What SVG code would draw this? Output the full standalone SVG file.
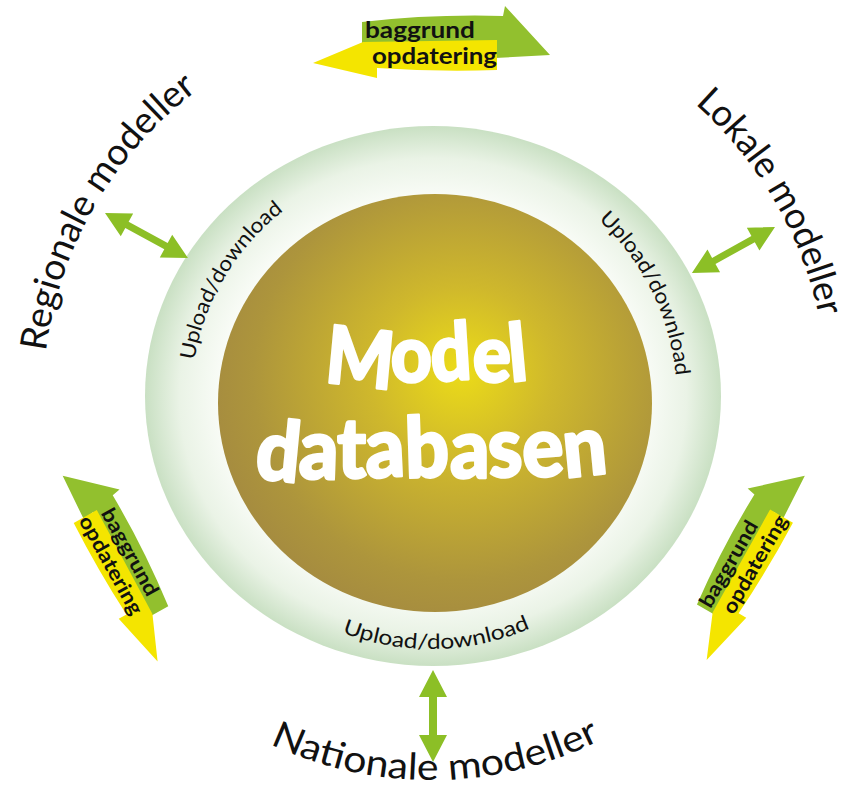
<svg xmlns="http://www.w3.org/2000/svg" width="845" height="789" viewBox="0 0 845 789">
<style>
.lbl{font-family:Lato,"Open Sans","Liberation Sans",sans-serif;fill:#111;}
.big{font-size:37px;}
.ud{font-size:21px;}
.cyc{font-family:Lato,"Open Sans","Liberation Sans",sans-serif;font-weight:bold;font-size:23px;fill:#111;}
.ctr{font-family:Lato,"DejaVu Sans","Liberation Sans",sans-serif;font-weight:900;fill:#fff;stroke:#fff;stroke-width:2.5;stroke-linejoin:round;}
.dbl{fill:#8cbf26;}
.grn{fill:#92c02e;}
.yel{fill:#f4e500;}
</style>
<defs>
<radialGradient id="ringG" cx="0.5" cy="0.5" r="0.5">
<stop offset="0.72" stop-color="#fbfdf9"/>
<stop offset="0.88" stop-color="#eaf3e6"/>
<stop offset="1" stop-color="#c9e0c3"/>
</radialGradient>
<radialGradient id="ballG" cx="0.56" cy="0.45" r="0.6" fx="0.56" fy="0.42">
<stop offset="0" stop-color="#ecdc18"/>
<stop offset="0.35" stop-color="#cfb82c"/>
<stop offset="0.8" stop-color="#ad953c"/>
<stop offset="1" stop-color="#a48a40"/>
</radialGradient>
<path id="pReg" d="M45.1,359.4 A388,388 0 0 1 214,78.3"/>
<path id="pLok" d="M686,96 A397,397 0 0 1 828,400"/>
<path id="pNat" d="M264.4,741.5 A380,380 0 0 0 621,729.1"/>
<path id="pUdL" d="M191.9,379.1 A240,240 0 0 1 311,192.2"/>
<path id="pUdR" d="M582.5,206.1 A246,246 0 0 1 677,400"/>
<path id="pUdB" d="M321.8,623.8 A249,249 0 0 0 555.5,615.6"/>
<g id="cycShape">
<path class="grn" d="M-70,-20 Q0,-28 71,-26 L73,-36 L118,13 L63,16 L65,3 Q0,1 -70,5 Z"/>
<path class="yel" d="M65,-2 L65,28 Q5,30 -55,26 L-55,36 L-119,21 L-69,0 Q0,-1 65,-2 Z"/>
</g>
</defs>

<rect width="845" height="789" fill="#fff"/>

<g id="ring">
<ellipse cx="433" cy="396" rx="288" ry="270" fill="url(#ringG)"/>
<text class="lbl ud"><textPath href="#pUdL" startOffset="19" textLength="178" lengthAdjust="spacingAndGlyphs">Upload/download</textPath></text>
<text class="lbl ud"><textPath href="#pUdR" startOffset="21" textLength="178" lengthAdjust="spacingAndGlyphs">Upload/download</textPath></text>
<text class="lbl ud"><textPath href="#pUdB" startOffset="22" textLength="193" lengthAdjust="spacingAndGlyphs">Upload/download</textPath></text>
</g>

<g id="database">
<ellipse cx="435" cy="403" rx="217" ry="209" fill="url(#ballG)"/>
<text class="ctr" x="324" y="382" font-size="80" textLength="205" lengthAdjust="spacingAndGlyphs" rotate="6 0 -4 0 -6">Model</text>
<text class="ctr" x="254" y="478" font-size="84" textLength="355" lengthAdjust="spacingAndGlyphs" rotate="6 2 0 -3 -2 0 -4 -4 -6">databasen</text>
</g>

<g id="regionale">
<text class="lbl big"><textPath href="#pReg" startOffset="8" textLength="310" lengthAdjust="spacingAndGlyphs">Regionale modeller</textPath></text>
</g>
<g id="lokale">
<text class="lbl big"><textPath href="#pLok" startOffset="12" textLength="250" lengthAdjust="spacingAndGlyphs">Lokale modeller</textPath></text>
</g>
<g id="nationale">
<text class="lbl big"><textPath href="#pNat" startOffset="6" textLength="342" lengthAdjust="spacingAndGlyphs">Nationale modeller</textPath></text>
</g>

<g id="cycle-top" transform="translate(432,42)">
<use href="#cycShape"/>
<text class="cyc" x="-67" y="-4" textLength="110" lengthAdjust="spacingAndGlyphs">baggrund</text>
<text class="cyc" x="-60" y="22" textLength="125" lengthAdjust="spacingAndGlyphs">opdatering</text>
</g>

<g id="cycle-left" transform="translate(123,561) rotate(61) scale(0.88)">
<use href="#cycShape" transform="scale(-1,1)"/>
<text class="cyc" x="-60" y="-4" textLength="110" lengthAdjust="spacingAndGlyphs">baggrund</text>
<text class="cyc" x="-65" y="22" textLength="125" lengthAdjust="spacingAndGlyphs">opdatering</text>
</g>

<g id="cycle-right" transform="translate(743,560) rotate(-60) scale(0.88)">
<use href="#cycShape"/>
<text class="cyc" x="-67" y="-4" textLength="110" lengthAdjust="spacingAndGlyphs">baggrund</text>
<text class="cyc" x="-60" y="22" textLength="125" lengthAdjust="spacingAndGlyphs">opdatering</text>
</g>

<g id="connectors">
<polygon class="dbl" transform="translate(105,213) rotate(28.5)" points="0,0 25,-13 25,-3.5 69.4,-3.5 69.4,-13 94.4,0 69.4,13 69.4,3.5 25,3.5 25,13"/>
<polygon class="dbl" transform="translate(775,227) rotate(151)" points="0,0 25,-13 25,-3.5 70,-3.5 70,-13 95,0 70,13 70,3.5 25,3.5 25,13"/>
<polygon class="dbl" transform="translate(433,670) rotate(90)" points="0,0 27,-14 27,-4 65,-4 65,-14 92,0 65,14 65,4 27,4 27,14"/>
</g>
</svg>
